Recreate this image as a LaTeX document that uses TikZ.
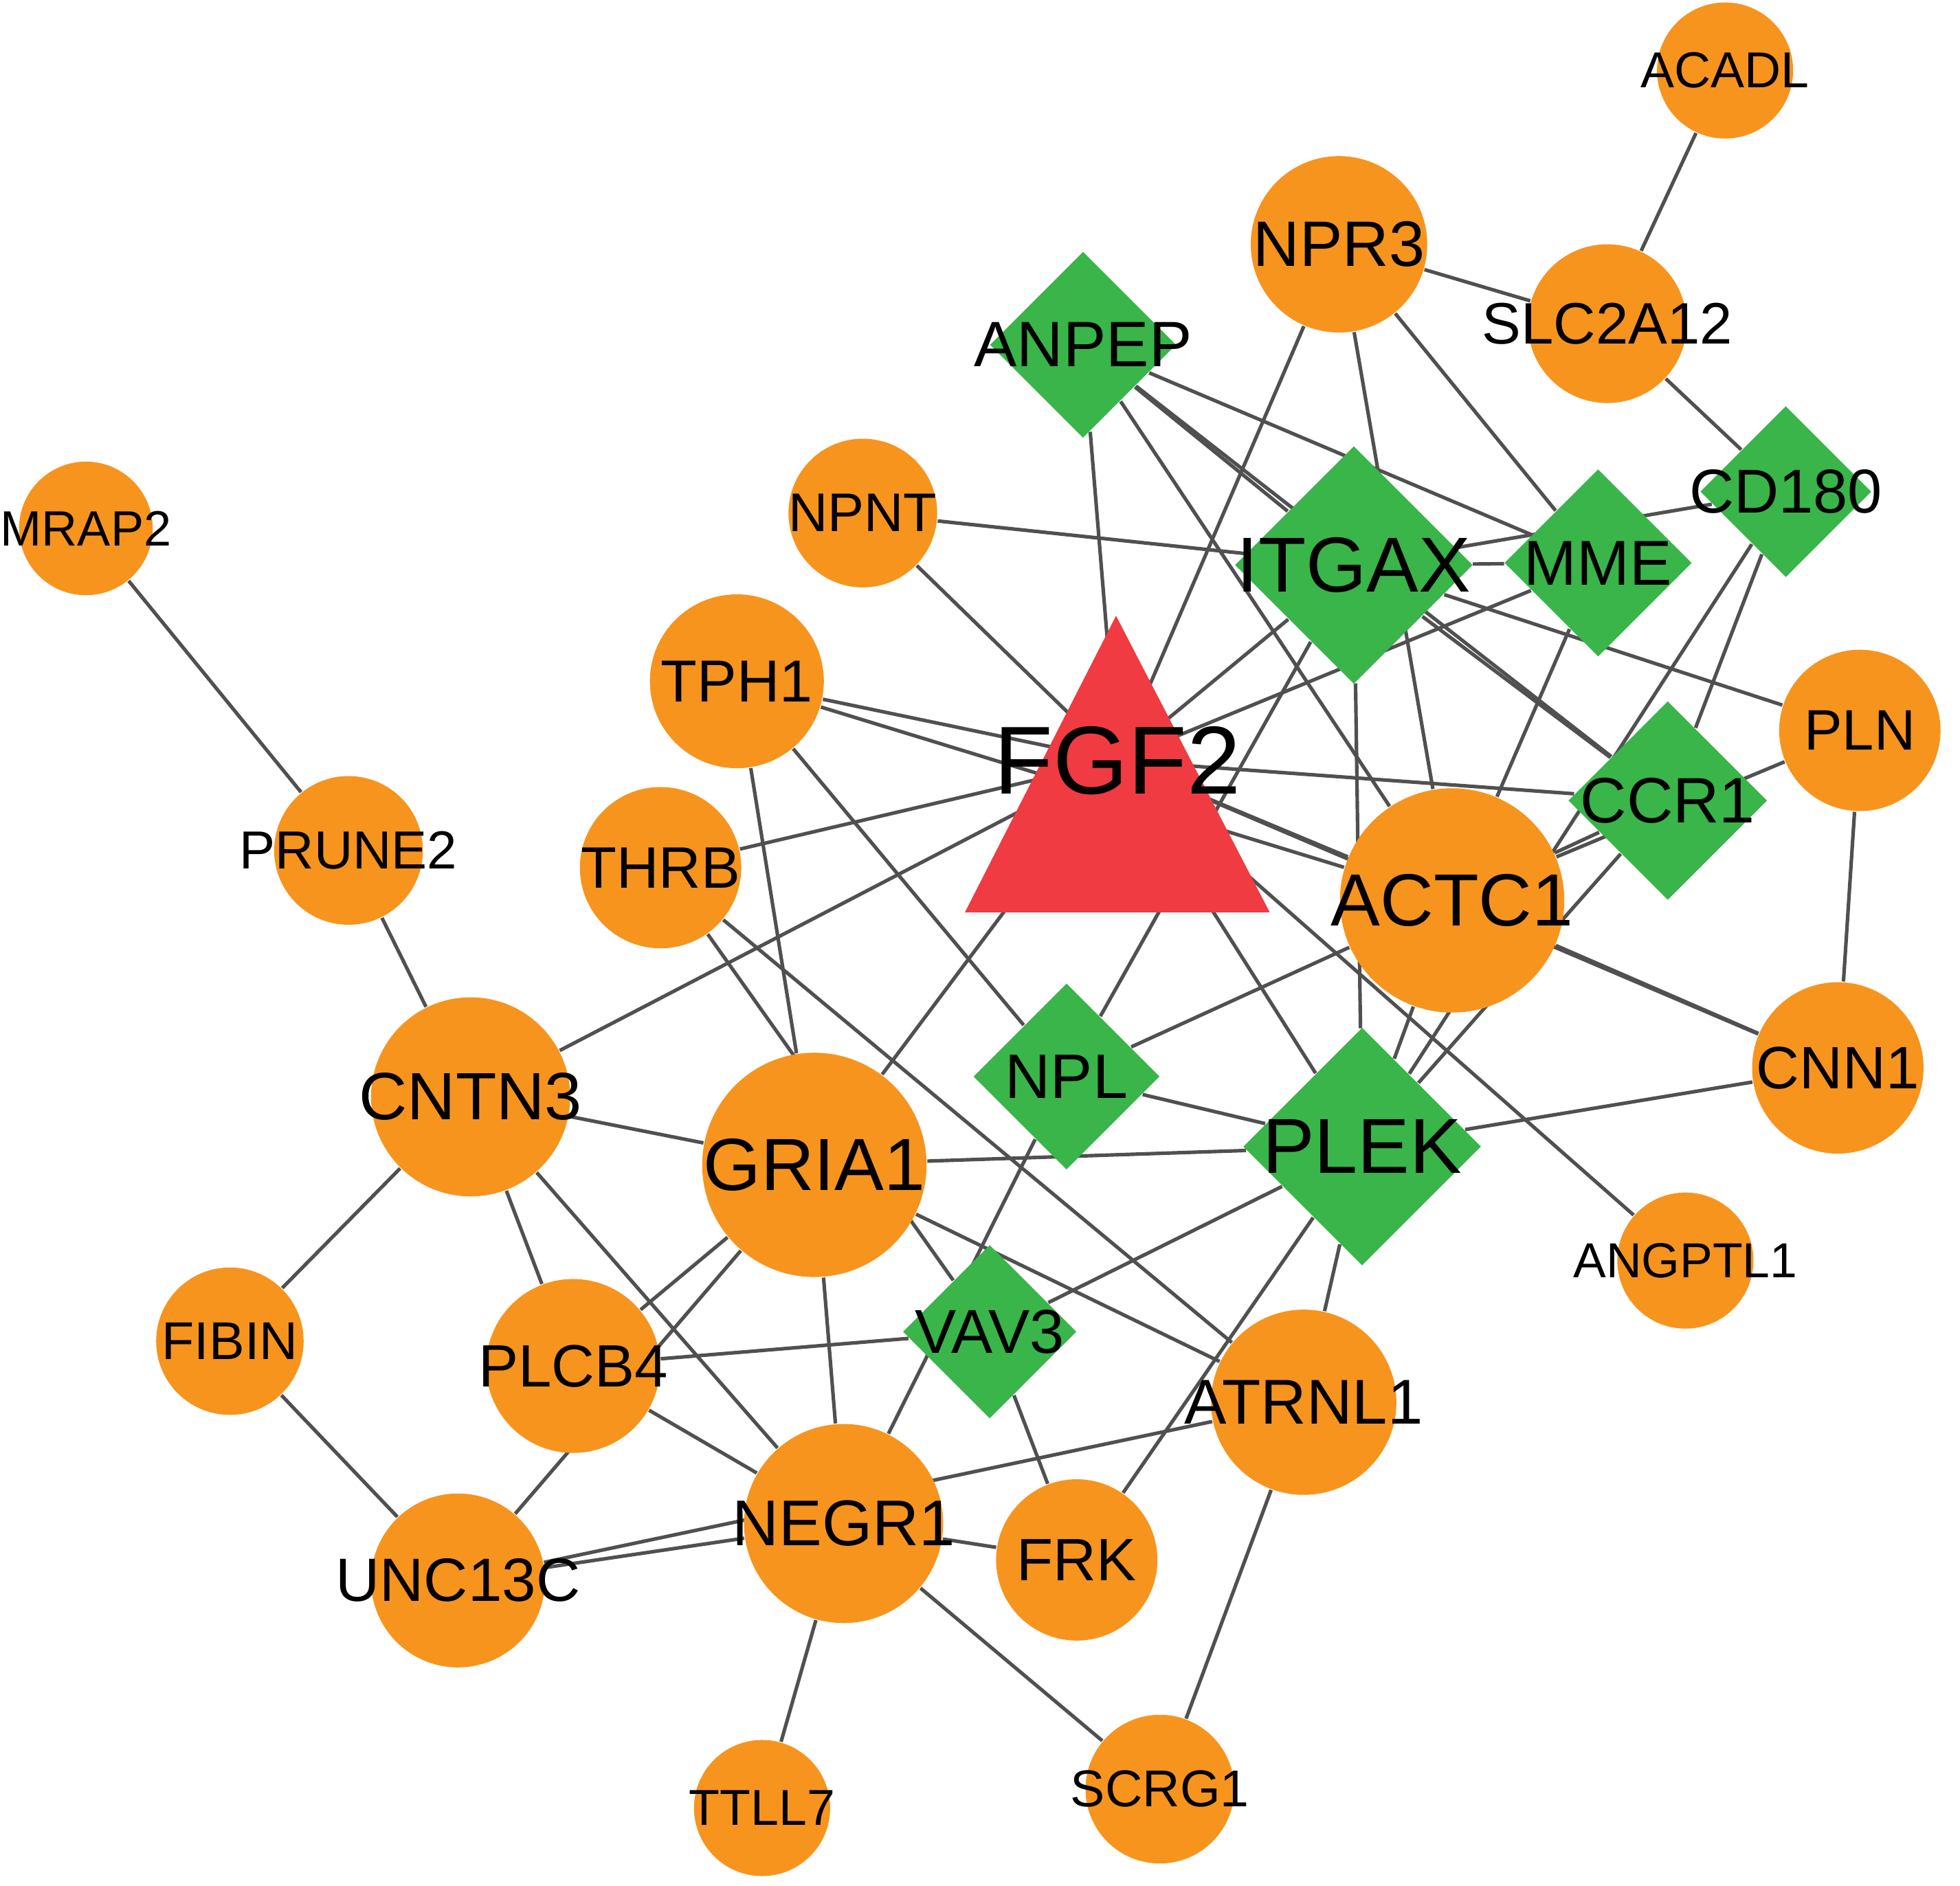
\documentclass[tikz,border=0pt]{standalone}
\usepackage{fontspec}
\setmainfont{Liberation Sans}
\usetikzlibrary{shapes.geometric}
\pgfdeclarelayer{back}
\pgfsetlayers{back,main}
\definecolor{geneorange}{RGB}{247,148,30}
\definecolor{genegreen}{RGB}{57,181,74}
\definecolor{hubred}{RGB}{239,59,65}
\definecolor{linkgray}{RGB}{80,80,80}

\begin{document}
\begin{tikzpicture}[x=0.01cm, y=-0.01cm,
	gene/.style={circle, fill=geneorange, inner sep=0pt, minimum size=#1cm},
	prot/.style={diamond, aspect=1, fill=genegreen, inner sep=0pt, minimum size=#1cm},
	lab/.style={font=\fontsize{#1}{#1}\selectfont, inner sep=0pt, text=black},
	link/.style={draw=linkgray, line width=0.8pt}]
			\useasboundingbox (0,0) rectangle (1556,1497.6);
			\node[gene=1.08, label={[lab=11.4]center:ACADL}] (acadl) at (1369.5,56){};
			\node[gene=1.40, label={[lab=14.5]center:NPR3}] (npr3) at (1063,194){};
			\node[gene=1.26, label={[lab=13.2]center:SLC2A12}] (slc2a12) at (1276,257){};
			\node[gene=1.06, label={[lab=11.2]center:MRAP2}] (mrap2) at (68.2,419.6){};
			\node[gene=1.18, label={[lab=12.3]center:NPNT}] (npnt) at (685,407.4){};
			\node[gene=1.38, label={[lab=13.4]center:TPH1}] (tph1) at (585,541){};
			\node[gene=1.28, label={[lab=12.9]center:PLN}] (pln) at (1476.5,580){};
			\node[gene=1.18, label={[lab=12.1]center:PRUNE2}] (prune2) at (276.7,675.3){};
			\node[gene=1.28, label={[lab=13.2]center:THRB}] (thrb) at (524.4,689){};
			\node[gene=1.78, label={[lab=16.7]center:ACTC1}] (actc1) at (1152.8,715){};
			\node[gene=1.58, label={[lab=15.1]center:CNTN3}] (cntn3) at (373.6,871){};
			\node[gene=1.78, label={[lab=16.7]center:GRIA1}] (gria1) at (646.5,925){};
			\node[gene=1.36, label={[lab=13.5]center:CNN1}] (cnn1) at (1459,848){};
			\node[gene=1.08, label={[lab=11.1]center:ANGPTL1}] (angptl1) at (1338,1001){};
			\node[gene=1.17, label={[lab=12.0]center:FIBIN}] (fibin) at (182.5,1065){};
			\node[gene=1.38, label={[lab=13.5]center:PLCB4}] (plcb4) at (455,1084.7){};
			\node[gene=1.47, label={[lab=14.3]center:ATRNL1}] (atrnl1) at (1035,1113.5){};
			\node[gene=1.58, label={[lab=14.6]center:NEGR1}] (negr1) at (669.7,1209.8){};
			\node[gene=1.28, label={[lab=13.5]center:FRK}] (frk) at (854.8,1238.7){};
			\node[gene=1.38, label={[lab=13.8]center:UNC13C}] (unc13c) at (363.6,1255){};
			\node[gene=1.08, label={[lab=11.4]center:TTLL7}] (ttll7) at (605,1435.7){};
			\node[gene=1.18, label={[lab=11.7]center:SCRG1}] (scrg1) at (920.8,1420.7){};
			\node[prot=1.48, label={[lab=14.5]center:ANPEP}] (anpep) at (859.8,273.8){};
			\node[prot=1.89, label={[lab=17.6]center:ITGAX}] (itgax) at (1074.8,448.7){};
			\node[prot=1.49, label={[lab=14.3]center:MME}] (mme) at (1268.7,447){};
			\node[prot=1.36, label={[lab=14.0]center:CD180}] (cd180) at (1417.7,390.4){};
			\node[prot=1.58, label={[lab=14.5]center:CCR1}] (ccr1) at (1324,635.7){};
			\node[prot=1.48, label={[lab=14.2]center:NPL}] (npl) at (846.7,854.8){};
			\node[prot=1.89, label={[lab=17.6]center:PLEK}] (plek) at (1081.4,910.5){};
			\node[prot=1.38, label={[lab=14.0]center:VAV3}] (vav3) at (785.7,1057.5){};
			\fill[hubred] (886,489) -- (1008,724.5) -- (766,724.5) -- cycle;
			\node[lab=21.8] (fgf2) at (887,604){FGF2};
			
			\begin{pgfonlayer}{back}
			\fill[white] (0,0) rectangle (1556,1497.6);
			\path[link] (acadl) edge (slc2a12);
			\path[link] (npr3) edge (slc2a12);
			\path[link] (slc2a12) edge (cd180);
			\path[link] (npr3) edge (fgf2.center);
			\path[link] (npr3) edge (actc1);
			\path[link] (npr3) edge (mme);
			\path[link] (anpep) edge (fgf2.center);
			\path[link] (anpep) edge (mme);
			\path[link] (anpep) edge (itgax);
			\path[link] (anpep) edge (ccr1);
			\path[link] (anpep) edge (actc1);
			\path[link] (itgax) edge (ccr1);
			\path[link] (npnt) edge (itgax);
			\path[link] (npnt) edge (fgf2.center);
			\path[link] (itgax) edge (cd180);
			\path[link] (itgax) edge (mme);
			\path[link] (itgax) edge (fgf2.center);
			\path[link] (itgax) edge (npl);
			\path[link] (itgax) edge (plek);
			\path[link] (itgax) edge (pln);
			\path[link] (mme) edge (fgf2.center);
			\path[link] (mme) edge (actc1);
			\path[link] (cd180) edge (ccr1);
			\path[link] (cd180) edge (plek);
			\path[link] (fgf2.center) edge (ccr1);
			\path[link] (actc1) edge (ccr1);
			\path[link] (pln) edge (actc1);
			\path[link] (pln) edge (cnn1);
			\path[link] (plek) edge (ccr1);
			\path[link] (plek) edge (actc1);
			\path[link] (fgf2.center) edge (actc1);
			\path[link] (fgf2.center) edge (cnn1);
			\path[link] (actc1) edge (cnn1);
			\path[link] (tph1) edge (fgf2.center);
			\path[link] (tph1) edge (actc1);
			\path[link] (tph1) edge (npl);
			\path[link] (tph1) edge (gria1);
			\path[link] (thrb) edge (fgf2.center);
			\path[link] (thrb) edge (vav3);
			\path[link] (thrb) edge (atrnl1);
			\path[link] (cntn3) edge (fgf2.center);
			\path[link] (fgf2.center) edge (gria1);
			\path[link] (fgf2.center) edge (plek);
			\path[link] (fgf2.center) edge (angptl1);
			\path[link] (npl) edge (actc1);
			\path[link] (npl) edge (plek);
			\path[link] (npl) edge (negr1);
			\path[link] (plek) edge (cnn1);
			\path[link] (gria1) edge (plek);
			\path[link] (plek) edge (vav3);
			\path[link] (plek) edge (frk);
			\path[link] (plek) edge (atrnl1);
			\path[link] (mrap2) edge (prune2);
			\path[link] (prune2) edge (cntn3);
			\path[link] (cntn3) edge (gria1);
			\path[link] (cntn3) edge (fibin);
			\path[link] (cntn3) edge (plcb4);
			\path[link] (cntn3) edge (negr1);
			\path[link] (fibin) edge (unc13c);
			\path[link] (unc13c) edge (gria1);
			\path[link] (plcb4) edge (gria1);
			\path[link] (plcb4) edge (vav3);
			\path[link] (plcb4) edge (negr1);
			\path[link] (gria1) edge (negr1);
			\path[link] (gria1) edge (atrnl1);
			\path[link] (unc13c) edge (negr1);
			\path[link] (unc13c) edge (atrnl1);
			\path[link] (negr1) edge (frk);
			\path[link] (negr1) edge (ttll7);
			\path[link] (negr1) edge (scrg1);
			\path[link] (atrnl1) edge (scrg1);
			\path[link] (vav3) edge (frk);
			\end{pgfonlayer}
			\end{tikzpicture}
\end{document}
